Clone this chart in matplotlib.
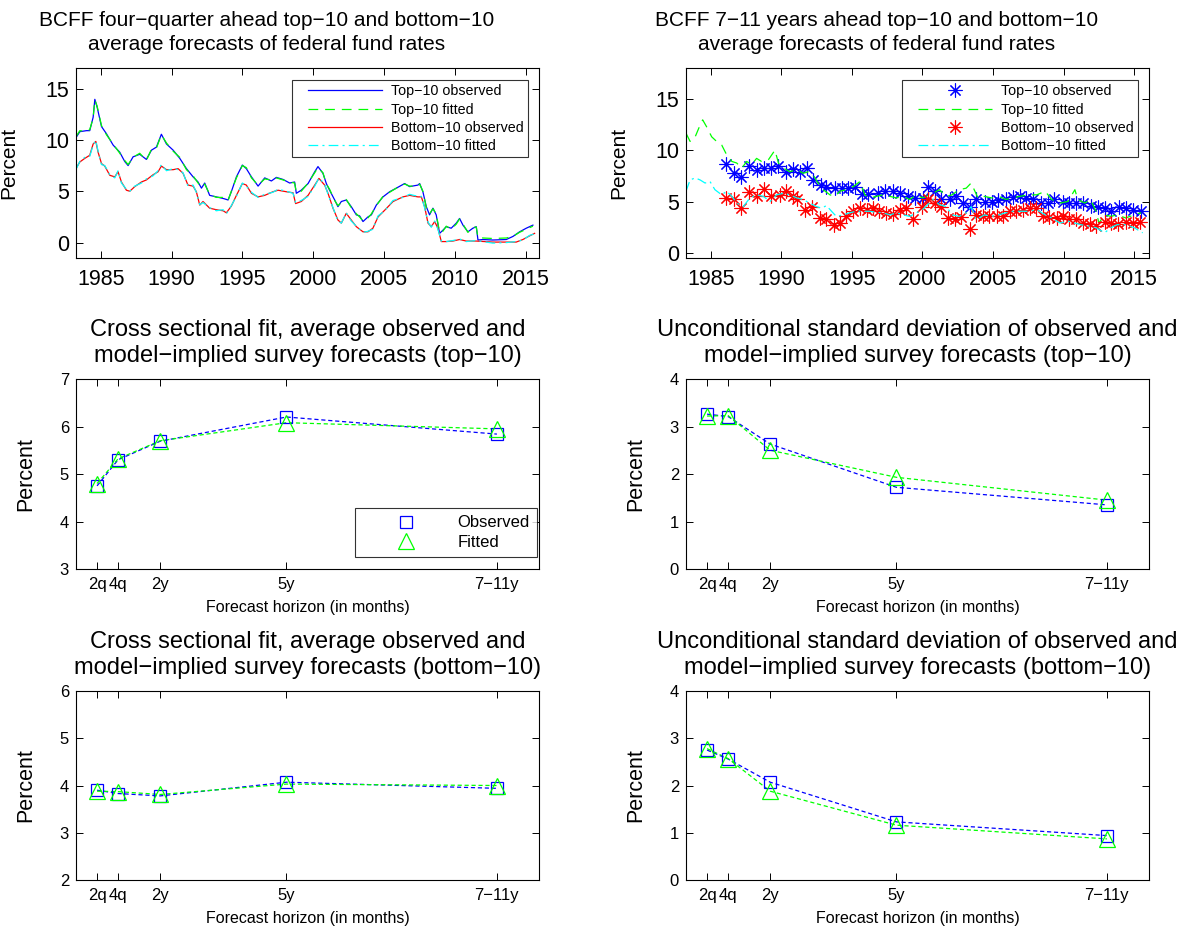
import matplotlib
matplotlib.use('Agg')
import matplotlib.pyplot as plt
from matplotlib.lines import Line2D
from matplotlib.legend_handler import HandlerLine2D

plt.rcParams['font.family'] = ['Liberation Sans', 'DejaVu Sans']
plt.rcParams['lines.scale_dashes'] = False

# ---------------- Panel 1: four-quarter ahead ----------------
top_years = [1983.24, 1983.52, 1983.99, 1984.22, 1984.46, 1984.58, 1984.74, 1985.05, 1985.40, 1985.87,
             1986.34, 1986.69, 1986.93, 1987.28, 1987.75, 1988.22, 1988.58, 1988.93, 1989.28, 1989.64,
             1990.11, 1990.58, 1991.05, 1991.52, 1991.87, 1992.11, 1992.34, 1992.69, 1993.16, 1993.64,
             1993.99, 1994.22, 1994.58, 1995.00, 1995.28, 1995.64, 1996.11, 1996.58, 1997.05, 1997.40,
             1997.87, 1998.34, 1998.69, 1998.81, 1999.16, 1999.64, 2000.11, 2000.34, 2000.69, 2000.93,
             2001.16, 2001.52, 2001.75, 2001.99, 2002.34, 2002.69, 2003.05, 2003.28, 2003.52, 2003.87,
             2004.11, 2004.46, 2004.93, 2005.40, 2005.87, 2006.46, 2006.81, 2007.40, 2007.52, 2007.75,
             2007.99, 2008.22, 2008.46, 2008.69, 2008.93, 2009.16, 2009.40, 2009.75, 2010.11, 2010.34,
             2010.58, 2010.93, 2011.28, 2011.52, 2011.64, 2011.99, 2012.69, 2013.64, 2014.11, 2014.58,
             2015.05, 2015.52]
top_obs = [10.2, 10.8, 10.9, 10.9, 12.2, 13.95, 13.2, 11.3, 10.6, 9.5,
           8.8, 7.9, 7.5, 8.35, 8.6, 8.1, 9.0, 9.3, 10.55, 9.6,
           9.0, 8.2, 7.2, 6.4, 5.9, 5.3, 5.8, 4.6, 4.45, 4.3,
           4.15, 4.95, 6.4, 7.55, 7.2, 6.4, 5.5, 6.3, 6.0, 6.35,
           6.15, 5.8, 5.9, 4.8, 5.1, 5.75, 6.9, 7.4, 6.75, 5.75,
           5.1, 4.15, 3.5, 4.0, 4.15, 3.5, 2.7, 2.6, 2.05, 2.5,
           2.7, 3.65, 4.45, 4.95, 5.3, 5.75, 5.45, 5.6, 5.75, 4.95,
           3.5, 2.7, 3.35, 2.7, 0.9, 1.2, 1.55, 1.4, 1.9, 2.35,
           1.7, 1.05, 1.4, 1.55, 0.25, 0.3, 0.25, 0.3, 0.6, 1.05,
           1.4, 1.7]
top_fit = [10.3, 10.9, 10.8, 11.0, 12.1, 13.9, 13.3, 11.4, 10.5, 9.6,
           8.7, 8.0, 7.6, 8.3, 8.7, 8.0, 9.1, 9.2, 10.5, 9.7,
           8.9, 8.3, 7.1, 6.5, 5.8, 5.4, 5.7, 4.7, 4.4, 4.4,
           4.1, 5.0, 6.3, 7.5, 7.3, 6.3, 5.6, 6.2, 6.1, 6.3,
           6.1, 5.9, 5.8, 4.9, 5.0, 5.8, 6.8, 7.3, 6.8, 5.7,
           5.2, 4.1, 3.6, 3.9, 4.2, 3.4, 2.8, 2.5, 2.1, 2.4,
           2.8, 3.6, 4.5, 4.9, 5.3, 5.7, 5.5, 5.5, 5.7, 5.0,
           3.4, 2.8, 3.3, 2.8, 1.0, 1.1, 1.6, 1.3, 1.8, 2.3,
           1.8, 1.0, 1.5, 1.5, 0.5, 0.45, 0.4, 0.45, 0.6, 1.0,
           1.3, 1.6]

bot_years = [1983.24, 1983.52, 1983.87, 1984.22, 1984.46, 1984.65, 1984.81, 1985.05, 1985.28, 1985.64,
             1985.99, 1986.22, 1986.46, 1986.81, 1987.05, 1987.40, 1987.87, 1988.22, 1988.69, 1989.05,
             1989.28, 1989.64, 1990.11, 1990.46, 1990.81, 1991.16, 1991.52, 1991.75, 1991.99, 1992.22,
             1992.69, 1993.16, 1993.64, 1993.87, 1994.22, 1994.58, 1995.00, 1995.28, 1995.64, 1996.11,
             1996.58, 1997.16, 1997.52, 1998.11, 1998.58, 1998.76, 1999.16, 1999.64, 2000.11, 2000.41,
             2000.81, 2001.05, 2001.40, 2001.75, 2001.99, 2002.34, 2002.69, 2003.05, 2003.52, 2003.87,
             2004.22, 2004.58, 2005.05, 2005.64, 2006.34, 2006.81, 2007.40, 2007.64, 2007.87, 2008.11,
             2008.34, 2008.58, 2008.81, 2009.05, 2009.40, 2009.87, 2010.34, 2010.81, 2011.52, 2012.69,
             2013.64, 2014.34, 2014.81, 2015.28, 2015.64]
bot_obs = [7.2, 7.85, 8.2, 8.5, 9.6, 9.85, 8.8, 7.7, 7.45, 6.55,
           6.4, 6.9, 5.9, 5.1, 5.0, 5.45, 5.9, 6.1, 6.6, 6.9,
           7.45, 7.1, 7.1, 7.2, 6.75, 5.6, 5.5, 4.95, 3.65, 4.0,
           3.35, 3.2, 3.1, 2.9, 3.55, 4.6, 5.75, 5.6, 4.8, 4.45,
           4.6, 4.95, 5.1, 4.95, 4.85, 3.8, 4.0, 4.6, 5.6, 6.25,
           5.6, 4.8, 3.35, 2.2, 1.9, 2.85, 2.2, 1.55, 1.05, 1.05,
           1.4, 2.5, 3.15, 4.0, 4.45, 4.6, 4.45, 4.45, 3.5, 1.9,
           1.55, 2.05, 1.4, 0.1, 0.1, 0.15, 0.3, 0.15, 0.15, 0.05,
           0.05, 0.05, 0.3, 0.65, 0.9]
bot_fit = [7.1, 7.9, 8.3, 8.4, 9.5, 9.95, 8.9, 7.6, 7.5, 6.6,
           6.3, 7.0, 5.8, 5.2, 5.0, 5.5, 5.8, 6.2, 6.5, 7.0,
           7.6, 7.0, 7.2, 7.1, 6.8, 5.5, 5.6, 4.9, 3.7, 3.9,
           3.4, 3.1, 3.2, 2.8, 3.6, 4.5, 5.8, 5.5, 4.9, 4.4,
           4.7, 4.9, 5.2, 5.0, 4.8, 3.9, 4.1, 4.5, 5.5, 6.3,
           5.7, 4.7, 3.4, 2.1, 1.9, 2.9, 2.1, 1.6, 1.0, 1.1,
           1.3, 2.6, 3.1, 4.1, 4.4, 4.7, 4.5, 4.5, 3.4, 2.0,
           1.5, 2.1, 1.3, 0.15, 0.1, 0.2, 0.35, 0.1, 0.2, -0.05,
           0.0, 0.1, 0.25, 0.7, 0.85]

# ---------------- Panel 2: 7-11 years ahead ----------------
lr_top_obs_years = [1986.1, 1986.65, 1987.15, 1987.7, 1988.25, 1988.8, 1989.3, 1989.8, 1990.3, 1990.8,
                    1991.3, 1991.8, 1992.25, 1992.8, 1993.2, 1993.8, 1994.3, 1994.75, 1995.2, 1995.7,
                    1996.15, 1996.85, 1997.35, 1997.9, 1998.4, 1999.0, 1999.45, 2000.05, 2000.4, 2000.9,
                    2001.35, 2001.95, 2002.4, 2002.9, 2003.35, 2003.8, 2004.4, 2004.9, 2005.35, 2005.95,
                    2006.4, 2006.9, 2007.35, 2007.85, 2008.4, 2008.9, 2009.35, 2009.95, 2010.4, 2010.9,
                    2011.35, 2011.95, 2012.45, 2012.9, 2013.35, 2013.95, 2014.45, 2014.9, 2015.5]
lr_top_obs = [8.7, 7.8, 7.4, 8.5, 8.1, 8.25, 8.25, 8.5, 7.9, 8.15,
              7.9, 8.25, 7.1, 6.6, 6.4, 6.3, 6.3, 6.3, 6.4, 5.7,
              5.7, 5.8, 6.0, 6.0, 5.8, 5.5, 5.35, 5.35, 6.45, 6.0,
              5.25, 5.2, 5.55, 4.85, 4.5, 5.2, 5.0, 5.0, 5.1, 5.2,
              5.45, 5.5, 5.35, 5.2, 4.9, 4.9, 5.2, 5.0, 4.9, 4.9,
              4.85, 4.6, 4.5, 4.35, 4.05, 4.5, 4.35, 4.2, 4.05]
lr_bot_obs_years = [1986.1, 1986.65, 1987.15, 1987.7, 1988.25, 1988.8, 1989.3, 1989.9, 1990.3, 1990.8,
                    1991.1, 1991.7, 1992.15, 1992.75, 1993.2, 1993.7, 1994.15, 1994.6, 1995.1, 1995.55,
                    1996.05, 1996.5, 1996.95, 1997.45, 1997.9, 1998.4, 1998.85, 1999.35, 1999.95, 2000.4,
                    2000.9, 2001.35, 2001.8, 2002.3, 2002.75, 2003.35, 2003.8, 2004.3, 2004.75, 2005.25,
                    2005.7, 2006.2, 2006.65, 2007.1, 2007.6, 2008.05, 2008.55, 2009.0, 2009.5, 2009.95,
                    2010.4, 2010.9, 2011.35, 2011.85, 2012.3, 2012.9, 2013.35, 2013.85, 2014.45, 2014.9,
                    2015.4]
lr_bot_obs = [5.35, 5.2, 4.35, 5.9, 5.5, 6.2, 5.5, 5.65, 6.0, 5.5,
              5.2, 4.2, 4.5, 3.4, 3.3, 2.75, 2.9, 3.55, 4.05, 4.35,
              4.2, 4.35, 4.05, 3.9, 3.8, 4.2, 4.35, 3.3, 4.5, 5.2,
              4.85, 4.5, 3.4, 3.3, 3.5, 2.35, 3.7, 3.55, 3.55, 3.55,
              3.6, 4.05, 4.05, 4.2, 4.35, 4.35, 3.55, 3.5, 3.4, 3.55,
              3.3, 3.25, 2.9, 2.85, 2.6, 3.0, 2.9, 2.85, 3.0, 2.9,
              3.0]
lr_top_fit_years = [1983.25, 1983.54, 1983.9, 1984.25, 1984.43, 1984.7, 1985.07, 1985.42, 1985.78, 1986.13,
                    1986.5, 1986.84, 1987.2, 1987.55, 1987.9, 1988.25, 1988.6, 1989.08, 1989.55, 1989.8,
                    1990.15, 1990.6, 1991.1, 1991.55, 1991.9, 1992.26, 1992.6, 1992.97, 1993.45, 1993.8,
                    1994.15, 1994.6, 1995.1, 1995.57, 1995.92, 1996.27, 1996.75, 1997.2, 1997.7, 1998.15,
                    1998.63, 1999.1, 1999.57, 2000.0, 2000.75, 2001.2, 2001.7, 2002.1, 2002.6, 2003.1,
                    2003.45, 2003.95, 2004.4, 2004.9, 2005.4, 2005.9, 2006.4, 2006.9, 2007.5, 2008.1,
                    2008.7, 2009.15, 2009.75, 2010.3, 2010.8, 2011.0, 2011.5, 2011.9, 2012.3, 2012.5,
                    2012.9, 2013.35, 2013.8, 2014.4, 2015.0, 2015.5]
lr_top_fit = [11.65, 10.85, 11.3, 12.45, 12.95, 12.3, 11.3, 10.85, 10.5, 9.55,
              8.9, 8.75, 8.25, 8.9, 8.6, 9.2, 8.9, 9.05, 10.0, 8.75,
              8.25, 7.9, 8.1, 7.75, 7.9, 7.6, 6.8, 6.15, 5.65, 5.5,
              6.0, 6.15, 6.45, 6.95, 5.65, 5.35, 5.5, 5.65, 5.5, 5.35,
              5.5, 5.2, 5.65, 5.35, 5.8, 6.15, 5.5, 5.65, 6.15, 6.3,
              6.8, 5.3, 5.5, 5.35, 5.5, 5.2, 5.35, 5.5, 5.65, 5.65,
              6.0, 5.2, 4.85, 5.0, 6.15, 5.2, 4.85, 5.2, 4.05, 2.9,
              3.7, 3.55, 3.7, 3.4, 3.7, 3.9]
lr_bot_fit_years = [1983.25, 1983.54, 1983.9, 1984.25, 1984.6, 1984.95, 1985.3, 1985.78, 1986.13, 1986.5,
                    1986.84, 1987.3, 1987.78, 1988.25, 1988.73, 1989.2, 1989.67, 1990.15, 1990.6, 1991.1,
                    1991.55, 1992.0, 1992.5, 1992.85, 1993.2, 1993.56, 1993.9, 1994.4, 1994.85, 1995.3,
                    1995.8, 1996.27, 1996.75, 1997.2, 1997.7, 1998.15, 1998.63, 1999.1, 1999.57, 2000.0,
                    2000.75, 2001.2, 2001.7, 2002.1, 2002.6, 2003.1, 2003.45, 2003.8, 2004.4, 2004.9,
                    2005.4, 2005.9, 2006.4, 2006.9, 2007.5, 2008.1, 2008.7, 2009.15, 2009.75, 2010.3,
                    2010.8, 2011.2, 2011.8, 2012.3, 2012.9, 2013.35, 2013.8, 2014.4, 2015.0, 2015.6]
lr_bot_fit = [6.0, 7.1, 7.3, 7.1, 6.8, 6.95, 6.15, 5.65, 6.0, 5.5,
              4.85, 4.5, 5.35, 5.65, 5.5, 5.0, 5.65, 5.8, 5.65, 5.35,
              5.2, 4.85, 4.5, 4.35, 4.6, 4.05, 3.55, 3.7, 3.9, 4.05,
              4.05, 4.05, 3.95, 3.9, 3.7, 3.9, 3.7, 3.55, 3.9, 4.2,
              5.2, 4.7, 4.5, 3.7, 3.55, 3.9, 4.5, 3.25, 3.7, 3.55,
              3.7, 3.9, 4.05, 4.05, 4.05, 4.2, 3.7, 3.4, 2.9, 3.1,
              2.9, 2.75, 2.6, 2.45, 1.95, 2.45, 2.75, 2.75, 2.45, 1.95]

# ---------------- Cross-sectional panels ----------------
horizon_months = [6, 12, 24, 60, 120]
horizon_labels = ['2q', '4q', '2y', '5y', '7\u221211y']
mean_top_obs = [4.75, 5.30, 5.69, 6.20, 5.84]
mean_top_fit = [4.80, 5.32, 5.70, 6.08, 5.95]
std_top_obs = [3.26, 3.21, 2.63, 1.72, 1.35]
std_top_fit = [3.22, 3.23, 2.50, 1.93, 1.45]
mean_bot_obs = [3.90, 3.83, 3.78, 4.07, 3.94]
mean_bot_fit = [3.88, 3.87, 3.81, 4.03, 4.00]
std_bot_obs = [2.75, 2.56, 2.07, 1.23, 0.94]
std_bot_fit = [2.78, 2.57, 1.88, 1.16, 0.87]

BLUE, GREEN, RED, CYAN = '#0000ff', '#00ff00', '#ff0000', '#00ffff'
M = '\u2212'

fig = plt.figure(figsize=(11.89, 9.34), dpi=100)
W, H = 1189.0, 934.0


def add_ax(left, top, right, bottom):
    return fig.add_axes([left / W, 1 - bottom / H, (right - left) / W, (bottom - top) / H])


def style(ax, lsize, xpad, ypad):
    ax.tick_params(direction='in', top=True, right=True, length=5, width=0.7,
                   labelsize=lsize, colors='black')
    ax.tick_params(axis='x', pad=xpad)
    ax.tick_params(axis='y', pad=ypad)
    for s in ax.spines.values():
        s.set_linewidth(0.8)


class PadHandler(HandlerLine2D):
    """Line legend handle with extra blank space on its left side."""
    def __init__(self, lpad=8.5, **kw):
        super().__init__(**kw)
        self.lpad = lpad

    def create_artists(self, legend, orig_handle, xdescent, ydescent, width, height, fontsize, trans):
        return super().create_artists(legend, orig_handle, xdescent - self.lpad, ydescent,
                                      width - self.lpad, height, fontsize, trans)


ax1 = add_ax(76, 68, 539, 258)
ax2 = add_ax(686, 68, 1149, 258)
ax3 = add_ax(76, 379, 539, 569)
ax4 = add_ax(686, 379, 1149, 569)
ax5 = add_ax(76, 691, 539, 880)
ax6 = add_ax(686, 691, 1149, 880)

dash_long = (0, (7, 5))
dash_dot = (0, (7, 3, 1.5, 3))


def top_legend(ax):
    handles, labels = ax.get_legend_handles_labels()
    lg = ax.legend(handles, labels, loc='upper right', bbox_to_anchor=(0.976, 0.937), fontsize=10.3,
                   frameon=True, fancybox=False, edgecolor='black', handlelength=6.0, handletextpad=0.6,
                   labelspacing=0.3, borderpad=0.3, borderaxespad=0,
                   handler_map={h: PadHandler() for h in handles})
    lg.get_frame().set_linewidth(0.8)


def top_title(ax, text):
    t = ax.set_title(text, fontsize=15, pad=13, linespacing=1.35)
    t.set_x(0.4125)


# Panel 1
ax1.plot(top_years, top_obs, color=BLUE, lw=0.9, label='Top' + M + '10 observed')
ax1.plot(top_years, top_fit, color=GREEN, lw=0.9, ls=dash_long, label='Top' + M + '10 fitted')
ax1.plot(bot_years, bot_obs, color=RED, lw=0.9, label='Bottom' + M + '10 observed')
ax1.plot(bot_years, bot_fit, color=CYAN, lw=0.9, ls=dash_dot, label='Bottom' + M + '10 fitted')
ax1.set_xlim(1983.25, 2015.95)
ax1.set_ylim(-1.5, 17)
ax1.set_xticks([1985, 1990, 1995, 2000, 2005, 2010, 2015])
ax1.set_yticks([0, 5, 10, 15])
style(ax1, 15.5, 8, 5)
ax1.set_ylabel('Percent', fontsize=15)
ax1.yaxis.set_label_coords(-0.125, 0.5)
top_title(ax1, 'BCFF four' + M + 'quarter ahead top' + M + '10 and bottom' + M + '10\naverage forecasts of federal fund rates')
top_legend(ax1)

# Panel 2
star = (8, 2, 0)
ax2.plot(lr_top_obs_years, lr_top_obs, ls='none', marker=star, ms=10, mew=0.8, mec=BLUE, color=BLUE,
         label='Top' + M + '10 observed')
ax2.plot(lr_top_fit_years, lr_top_fit, color=GREEN, lw=0.9, ls=dash_long, label='Top' + M + '10 fitted')
ax2.plot(lr_bot_obs_years, lr_bot_obs, ls='none', marker=star, ms=10, mew=0.8, mec=RED, color=RED,
         label='Bottom' + M + '10 observed')
ax2.plot(lr_bot_fit_years, lr_bot_fit, color=CYAN, lw=0.9, ls=dash_dot, label='Bottom' + M + '10 fitted')
ax2.set_xlim(1983.25, 2016.05)
ax2.set_ylim(-0.5, 18)
ax2.set_xticks([1985, 1990, 1995, 2000, 2005, 2010, 2015])
ax2.set_yticks([0, 5, 10, 15])
style(ax2, 15.5, 8, 5)
ax2.set_ylabel('Percent', fontsize=15)
ax2.yaxis.set_label_coords(-0.125, 0.5)
top_title(ax2, 'BCFF 7' + M + '11 years ahead top' + M + '10 and bottom' + M + '10\naverage forecasts of federal fund rates')
top_legend(ax2)

# Cross-sectional panels
short_dash = (0, (3, 2))
panels = [
    (ax3, mean_top_obs, mean_top_fit, (3, 7), 'Cross sectional fit, average observed and\nmodel' + M + 'implied survey forecasts (top' + M + '10)', True),
    (ax4, std_top_obs, std_top_fit, (0, 4), 'Unconditional standard deviation of observed and\nmodel' + M + 'implied survey forecasts (top' + M + '10)', False),
    (ax5, mean_bot_obs, mean_bot_fit, (2, 6), 'Cross sectional fit, average observed and\nmodel' + M + 'implied survey forecasts (bottom' + M + '10)', False),
    (ax6, std_bot_obs, std_bot_fit, (0, 4), 'Unconditional standard deviation of observed and\nmodel' + M + 'implied survey forecasts (bottom' + M + '10)', False),
]
for ax, obs, fit, ylim, title, show_leg in panels:
    ax.plot(horizon_months, obs, color=BLUE, lw=0.9, ls=short_dash)
    ax.plot(horizon_months, fit, color=GREEN, lw=0.9, ls=short_dash)
    ax.plot(horizon_months, obs, ls='none', marker='s', ms=9, mfc='none', mec=BLUE, mew=0.9)
    ax.plot(horizon_months, fit, ls='none', marker='^', ms=11, mfc='none', mec=GREEN, mew=0.9)
    ax.set_xlim(0, 132)
    ax.set_ylim(*ylim)
    ax.set_xticks(horizon_months)
    ax.set_xticklabels(horizon_labels)
    ax.set_yticks(list(range(ylim[0], ylim[1] + 1)))
    style(ax, 12, 6, 5)
    ax.set_ylabel('Percent', fontsize=15.5)
    ax.yaxis.set_label_coords(-0.086, 0.5)
    ax.set_xlabel('Forecast horizon (in months)', fontsize=11.5)
    ax.xaxis.set_label_coords(0.5, -0.165)
    ax.set_title(title, fontsize=17, pad=12.5, linespacing=1.2)
    if show_leg:
        handles = [Line2D([], [], ls='none', marker='s', ms=9, mfc='none', mec=BLUE, mew=0.9),
                   Line2D([], [], ls='none', marker='^', ms=11, mfc='none', mec=GREEN, mew=0.9)]
        lg = ax.legend(handles, ['Observed', 'Fitted'], loc='lower right', bbox_to_anchor=(0.996, 0.063),
                       fontsize=12, frameon=True, fancybox=False, edgecolor='black', handlelength=5.2,
                       handletextpad=0.5, labelspacing=0.25, borderpad=0.45, borderaxespad=0)
        lg.get_frame().set_linewidth(0.8)

fig.savefig('out.png', dpi=100)
